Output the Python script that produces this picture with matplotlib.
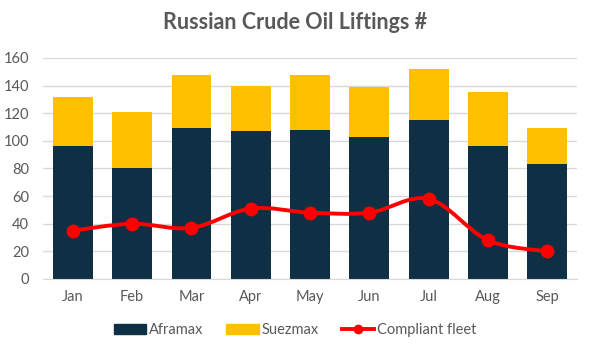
import matplotlib
matplotlib.use('Agg')
import matplotlib.pyplot as plt
import numpy as np
from matplotlib.path import Path
from matplotlib.patches import PathPatch
from matplotlib.lines import Line2D

months = ['Jan', 'Feb', 'Mar', 'Apr', 'May', 'Jun', 'Jul', 'Aug', 'Sep']
aframax = [96, 80, 109, 107, 108, 103, 115, 96, 83]
suezmax = [36, 41, 39, 33, 40, 36, 37, 39, 26]
compliant = [35, 40, 37, 51, 48, 48, 58, 28, 20]

NAVY = '#0E2F44'
AMBER = '#FFC000'
RED = '#FF0000'
GREY = '#595959'

plt.rcParams['font.family'] = ['Lato', 'DejaVu Sans']

fig = plt.figure(figsize=(5.9, 3.52), dpi=100)
ax = fig.add_axes([0.073, 0.2074, 0.905, 0.628])

x = np.arange(len(months))
ax.bar(x, aframax, width=0.67, color=NAVY, zorder=2)
ax.bar(x, suezmax, width=0.67, bottom=aframax, color=AMBER, zorder=2)


def smooth_path(xs, ys, t=1 / 6):
    # Excel-style smoothed line: Catmull-Rom segments as cubic Beziers
    pts = np.column_stack([xs, ys]).astype(float)
    verts = [pts[0]]
    codes = [Path.MOVETO]
    n = len(pts)
    for i in range(n - 1):
        p0 = pts[max(i - 1, 0)]
        p1 = pts[i]
        p2 = pts[i + 1]
        p3 = pts[min(i + 2, n - 1)]
        c1 = p1 + (p2 - p0) * t
        c2 = p2 - (p3 - p1) * t
        verts += [c1, c2, p2]
        codes += [Path.CURVE4] * 3
    return Path(verts, codes)


ax.add_patch(PathPatch(smooth_path(x, compliant), facecolor='none',
                       edgecolor=RED, lw=2.8, zorder=3, capstyle='round'))
ax.plot(x, compliant, ls='none', marker='o', ms=9, color=RED, zorder=4)

ax.set_xlim(-0.5, len(months) - 0.5)
ax.set_ylim(0, 160)
ax.set_yticks(range(0, 161, 20))
ax.set_xticks(x)
ax.set_xticklabels(months)
ax.yaxis.grid(True, color='#D9D9D9', lw=1, zorder=0)
ax.set_axisbelow(True)
for s in ['top', 'right', 'left']:
    ax.spines[s].set_visible(False)
ax.spines['bottom'].set_color('#D9D9D9')
ax.tick_params(axis='both', length=0, labelsize=10.5, colors=GREY, pad=8)
ax.tick_params(axis='y', pad=10)

fig.text(0.5, 0.935, 'Russian Crude Oil Liftings #', ha='center', va='center',
         fontsize=15.5, fontweight='bold', color=GREY)

handles = [
    plt.Rectangle((0, 0), 1, 1, color=NAVY),
    plt.Rectangle((0, 0), 1, 1, color=AMBER),
    Line2D([0], [0], color=RED, lw=2.8, marker='o', ms=6),
]
fig.legend(handles, ['Aframax', 'Suezmax', 'Compliant fleet'], loc='center',
           bbox_to_anchor=(0.5, 0.062), ncol=3, frameon=False, fontsize=10.5,
           labelcolor=GREY, handlelength=2.2, handleheight=0.6,
           columnspacing=1.6, handletextpad=0.2)

fig.savefig('out.png', dpi=100)
